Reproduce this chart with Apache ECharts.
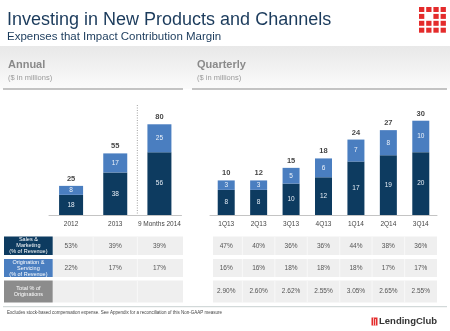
<!DOCTYPE html>
<html><head><meta charset="utf-8">
<script src="https://cdn.jsdelivr.net/npm/echarts@6/dist/echarts.min.js"></script>
<style>html,body{margin:0;padding:0;background:#fff}#c{width:450px;height:331px}</style>
</head><body><div id="c"></div>
<script>
const annualCats = ['2012','2013','9 Months 2014'];
const annualSales = [18,38,56];
const annualOrig = [8,17,25];
const annualTotals = [25,55,80];
const quarterCats = ['1Q13','2Q13','3Q13','4Q13','1Q14','2Q14','3Q14'];
const quarterSales = [8,8,10,12,17,19,20];
const quarterOrig = [3,3,5,6,7,8,10];
const quarterTotals = [10,12,15,18,24,27,30];
const annualSalesPct = ['53%','39%','39%'];
const annualOrigPct = ['22%','17%','17%'];
const annualTotalPct = ['','',''];
const quarterSalesPct = ['47%','40%','36%','36%','44%','38%','36%'];
const quarterOrigPct = ['16%','16%','18%','18%','18%','17%','17%'];
const quarterTotalPct = ['2.90%','2.60%','2.62%','2.55%','3.05%','2.65%','2.55%'];
const rowLabels = ['Sales &\nMarketing\n(% of Revenue)','Origination &\nServicing\n(% of Revenue)','Total % of\nOriginations'];

const FONT = 'Liberation Sans, Arial, sans-serif';
const DARK = '#0d3b60';
const LIGHT = '#4a7ec0';
const chart = echarts.init(document.getElementById('c'), null, {renderer:'canvas'});

function xAxisCfg(idx, cats){
  return {type:'category', gridIndex:idx, data:cats,
    axisLine:{lineStyle:{color:'#c4c4c4', width:1}}, axisTick:{show:false},
    axisLabel:{color:'#444', fontSize:6.5, fontFamily:FONT, margin:6, interval:0}};
}
function yAxisCfg(idx, max){
  return {type:'value', gridIndex:idx, min:0, max:max, show:false, splitLine:{show:false}};
}
function darkSeries(ax, data, w){
  return {type:'bar', xAxisIndex:ax, yAxisIndex:ax, stack:'s'+ax, data:data, barWidth:w,
    itemStyle:{color:DARK}, label:{show:true, position:'inside', color:'#e6edf5', fontSize:6.5, fontFamily:FONT}};
}
function lightSeries(ax, data, w, totals){
  return {type:'bar', xAxisIndex:ax, yAxisIndex:ax, stack:'s'+ax, data:data, barWidth:w,
    itemStyle:{color:LIGHT}, label:{show:true, position:'inside', color:'#eef3fa', fontSize:6.5, fontFamily:FONT}};
}
function totalSeries(ax, sales, orig, totals){
  return {type:'scatter', xAxisIndex:ax, yAxisIndex:ax, symbolSize:0, silent:true,
    data: sales.map((v,i)=>v+orig[i]),
    label:{show:true, position:'top', distance:3, color:'#111', fontWeight:'bold', fontSize:7.5, fontFamily:FONT,
      formatter:p=>String(totals[p.dataIndex])}};
}

chart.setOption({
  animation:false,
  backgroundColor:'#fff',
  grid:[
    {left:49, top:103, width:132.5, height:112},
    {left:210, top:105, width:227, height:110}
  ],
  xAxis:[xAxisCfg(0, annualCats), xAxisCfg(1, quarterCats)],
  yAxis:[yAxisCfg(0, 100), yAxisCfg(1, 35)],
  series:[
    darkSeries(0, annualSales, 24), lightSeries(0, annualOrig, 24), totalSeries(0, annualSales, annualOrig, annualTotals),
    darkSeries(1, quarterSales, 17), lightSeries(1, quarterOrig, 17), totalSeries(1, quarterSales, quarterOrig, quarterTotals)
  ]
});

const ax = annualCats.map(c=>chart.convertToPixel({xAxisIndex:0}, c));
const qx = quarterCats.map(c=>chart.convertToPixel({xAxisIndex:1}, c));

const g = [];
// background band
g.push({type:'rect', shape:{x:0,y:46,width:450,height:43}, z:-10,
  style:{fill:new echarts.graphic.LinearGradient(0,0,0,1,[{offset:0,color:'#e8e8e8'},{offset:1,color:'#fbfbfb'}])}});
// titles
g.push({type:'text', x:7, y:20.5, style:{text:'Investing in New Products and Channels', fontSize:18, fontFamily:FONT, fill:'#1b3b5c', verticalAlign:'middle'}});
g.push({type:'text', x:7, y:36.5, style:{text:'Expenses that Impact Contribution Margin', fontSize:11.5, fontFamily:FONT, fill:'#1b3b5c', verticalAlign:'middle'}});
// top-right logo
for(let r=0;r<4;r++) for(let c=0;c<4;c++){
  if(r===1 && c===1) continue;
  g.push({type:'rect', shape:{x:419+c*7.2, y:7+r*6.9, width:5.3, height:5}, style:{fill:'#e42b2b'}});
}
// section headers
g.push({type:'text', x:8, y:65, style:{text:'Annual', fontSize:11, fontWeight:'bold', fontFamily:FONT, fill:'#8a8a8a', verticalAlign:'middle'}});
g.push({type:'text', x:8, y:77.5, style:{text:'($ in millions)', fontSize:7.5, fontFamily:FONT, fill:'#9a9a9a', verticalAlign:'middle'}});
g.push({type:'text', x:197, y:65, style:{text:'Quarterly', fontSize:11, fontWeight:'bold', fontFamily:FONT, fill:'#8a8a8a', verticalAlign:'middle'}});
g.push({type:'text', x:197, y:77.5, style:{text:'($ in millions)', fontSize:7.5, fontFamily:FONT, fill:'#9a9a9a', verticalAlign:'middle'}});
g.push({type:'line', shape:{x1:3,y1:89,x2:183,y2:89}, style:{stroke:'#b0b0b0', lineWidth:1.5}});
g.push({type:'line', shape:{x1:192,y1:89,x2:447,y2:89}, style:{stroke:'#b0b0b0', lineWidth:1.5}});
// dotted separator
const sepX = (ax[1]+ax[2])/2;
g.push({type:'line', shape:{x1:sepX,y1:105,x2:sepX,y2:215}, style:{stroke:'#8a8a8a', lineWidth:0.8, lineDash:[1,1.5]}});

// table
const rows = [{y:236.5,h:18.5,fill:DARK},{y:259,h:18,fill:LIGHT},{y:280.5,h:22,fill:'#8c8c8c'}];
const aVals = [annualSalesPct, annualOrigPct, annualTotalPct];
const qVals = [quarterSalesPct, quarterOrigPct, quarterTotalPct];
rows.forEach((row,ri)=>{
  g.push({type:'rect', shape:{x:4,y:row.y,width:48.7,height:row.h}, style:{fill:row.fill}});
  g.push({type:'text', x:28.4, y:row.y+row.h/2, style:{text:rowLabels[ri], fontSize:5.5, lineHeight:6, fontFamily:FONT, fill:'#fff', align:'center', verticalAlign:'middle'}});
  g.push({type:'rect', shape:{x:53,y:row.y,width:130,height:row.h}, style:{fill:'#efefef'}});
  g.push({type:'rect', shape:{x:213,y:row.y,width:224,height:row.h}, style:{fill:'#efefef'}});
  for(let i=1;i<ax.length;i++){
    const sx=(ax[i-1]+ax[i])/2;
    g.push({type:'line', shape:{x1:sx,y1:row.y,x2:sx,y2:row.y+row.h}, style:{stroke:'#f8f8f8', lineWidth:1}});
  }
  for(let i=1;i<qx.length;i++){
    const sx=(qx[i-1]+qx[i])/2;
    g.push({type:'line', shape:{x1:sx,y1:row.y,x2:sx,y2:row.y+row.h}, style:{stroke:'#f8f8f8', lineWidth:1}});
  }
  aVals[ri].forEach((t,i)=>{ if(t) g.push({type:'text', x:ax[i], y:row.y+row.h/2, style:{text:t, fontSize:6.5, fontFamily:FONT, fill:'#555', align:'center', verticalAlign:'middle'}}); });
  qVals[ri].forEach((t,i)=>{ if(t) g.push({type:'text', x:qx[i], y:row.y+row.h/2, style:{text:t, fontSize:6.5, fontFamily:FONT, fill:'#555', align:'center', verticalAlign:'middle'}}); });
});
// footer
g.push({type:'line', shape:{x1:3,y1:306.7,x2:447,y2:306.7}, style:{stroke:'#c8d0d0', lineWidth:1}});
g.push({type:'text', x:7, y:312.3, style:{text:'Excludes stock-based compensation expense. See Appendix for a reconciliation of this Non-GAAP measure', fontSize:4.5, fontFamily:FONT, fill:'#444', verticalAlign:'middle'}});
// LendingClub logo
g.push({type:'rect', shape:{x:371.5,y:317.5,width:6,height:8}, style:{fill:'#e42b2b'}});
g.push({type:'line', shape:{x1:373.5,y1:317.5,x2:373.5,y2:325.5}, style:{stroke:'#fff', lineWidth:0.7}});
g.push({type:'line', shape:{x1:375.5,y1:319,x2:375.5,y2:325.5}, style:{stroke:'#fff', lineWidth:0.7}});
g.push({type:'text', x:379, y:321.5, style:{text:'LendingClub', fontSize:9.5, fontWeight:'bold', fontFamily:FONT, fill:'#333', verticalAlign:'middle'}});

chart.setOption({graphic:{elements:g}});
</script>
</body></html>
